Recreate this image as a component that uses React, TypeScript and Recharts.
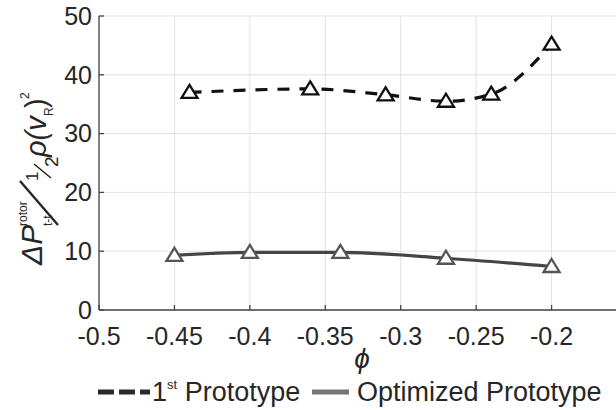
import React from 'react';
import { LineChart, Line, XAxis, YAxis, CartesianGrid, Legend } from 'recharts';

const firstPhi = [-0.44, -0.36, -0.31, -0.27, -0.24, -0.2];
const firstLoss = [37.0, 37.6, 36.6, 35.5, 36.7, 45.2];
const optPhi = [-0.45, -0.4, -0.34, -0.27, -0.2];
const optLoss = [9.3, 9.8, 9.8, 8.8, 7.4];
const xTicks = [-0.5, -0.45, -0.4, -0.35, -0.3, -0.25, -0.2];
const yTicks = [0, 10, 20, 30, 40, 50];

const firstData = firstPhi.map((x, i) => ({ x, y: firstLoss[i] }));
const optData = optPhi.map((x, i) => ({ x, y: optLoss[i] }));

const FONT = '"Liberation Sans", Arial, Helvetica, sans-serif';
const INK = '#262626';

const Triangle = (color: string) => (props: any) => {
  const { cx, cy, index } = props;
  if (cx == null || cy == null) return null;
  return (
    <path
      key={`tri-${index}`}
      d={`M${cx},${cy - 7.5} L${cx + 8},${cy + 5.5} L${cx - 8},${cy + 5.5} Z`}
      fill="#fff"
      stroke={color}
      strokeWidth={2.3}
      strokeLinejoin="miter"
    />
  );
};

const YLabel = () => (
  <g transform="translate(42,265) rotate(-90)" fill={INK} fontFamily={FONT}>
    <text x={0} y={0} fontSize={30} fontStyle="italic">ΔP</text>
    <text x={39} y={-15} fontSize={12}>rotor</text>
    <text x={39} y={10} fontSize={12}>t-t</text>
    <line x1={40} y1={16} x2={84} y2={-22} stroke={INK} strokeWidth={2.4} />
    <text x={84} y={-4} fontSize={17}>1</text>
    <line x1={87} y1={9} x2={101} y2={-8} stroke={INK} strokeWidth={1.6} />
    <text x={98} y={16} fontSize={19}>2</text>
    <text x={108} y={4} fontSize={29} fontStyle="italic">ρ(v</text>
    <text x={149} y={11} fontSize={12}>R</text>
    <text x={157} y={4} fontSize={29}>)</text>
    <text x={166} y={-13} fontSize={12}>2</text>
  </g>
);

const XLabel = () => (
  <text x={362} y={368} textAnchor="middle" fontSize={28} fontStyle="italic" fill={INK} fontFamily={FONT}>
    ϕ
  </text>
);

const LegendBox = () => (
  <svg width={616} height={36} style={{ display: 'block' }} fontFamily={FONT}>
    <line x1={98} x2={150} y1={18} y2={18} stroke="#2a2a2a" strokeWidth={5} strokeDasharray="16 5" />
    <text x={152} y={27} fontSize={27} fill={INK}>
      1<tspan fontSize={13} dy={-12}>st</tspan>
      <tspan dy={12}> Prototype</tspan>
    </text>
    <line x1={312} x2={349} y1={18} y2={18} stroke="#777" strokeWidth={5} />
    <text x={357} y={27} fontSize={27} fill={INK}>Optimized Prototype</text>
  </svg>
);

export default function App() {
  return (
    <div style={{ position: 'absolute', left: 0, top: 0, width: 616, height: 410, overflow: 'hidden', background: '#fff' }}>
      <LineChart width={640} height={410} margin={{ top: 16, right: 13, bottom: 70, left: 39 }}>
        <CartesianGrid stroke="#e2e2e2" strokeWidth={1} />
        <XAxis
          type="number"
          dataKey="x"
          domain={[-0.5, -0.15]}
          ticks={xTicks}
          allowDataOverflow
          height={30}
          stroke="#444"
          strokeWidth={1.3}
          tickSize={-5}
          tickMargin={22}
          tick={{ fontSize: 25, fill: INK, fontFamily: FONT }}
          label={{ content: () => <XLabel /> }}
        />
        <YAxis
          type="number"
          dataKey="y"
          domain={[0, 50]}
          ticks={yTicks}
          width={60}
          stroke="#444"
          strokeWidth={1.3}
          tickSize={-5}
          tickMargin={12}
          tick={{ fontSize: 25, fill: INK, fontFamily: FONT }}
          label={{ content: () => <YLabel /> }}
        />
        <Legend
          layout="horizontal"
          verticalAlign="middle"
          align="center"
          wrapperStyle={{ position: 'absolute', left: 0, top: 374, width: 616, height: 36 }}
          content={() => <LegendBox />}
        />
        <Line
          data={firstData}
          dataKey="y"
          type="monotone"
          stroke="#111"
          strokeWidth={3.2}
          strokeDasharray="12 10"
          dot={Triangle('#111')}
          activeDot={false}
          isAnimationActive={false}
          name="1st Prototype"
        />
        <Line
          data={optData}
          dataKey="y"
          type="monotone"
          stroke="#454545"
          strokeWidth={3.2}
          dot={Triangle('#555')}
          activeDot={false}
          isAnimationActive={false}
          name="Optimized Prototype"
        />
      </LineChart>
    </div>
  );
}
